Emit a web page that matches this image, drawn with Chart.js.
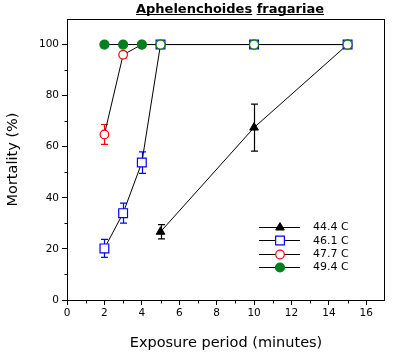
<!DOCTYPE html>
<html><head><meta charset="utf-8">
<style>html,body{margin:0;padding:0;background:#fff}canvas{display:block}</style>
<script src="https://cdn.jsdelivr.net/npm/chart.js@4/dist/chart.umd.min.js"></script>
</head><body>
<canvas id="c" width="393" height="354"></canvas>
<script>
// ---- data ----
const titleWords = ['Aphelenchoides', 'fragariae'];
const xAxisLabel = 'Exposure period (minutes)';
const yAxisLabel = 'Mortality (%)';
const seriesLabels = ['44.4 C', '46.1 C', '47.7 C', '49.4 C'];

const x444 = [5, 10, 15];
const y444 = [26.7, 67.5, 100];
const e444 = [2.8, 9.2, 0];

const x461 = [2, 3, 4, 5, 10, 15];
const y461 = [20.2, 34, 53.8, 100, 100, 100];
const e461 = [3.5, 3.9, 4.2, 0, 0, 0];

const x477 = [2, 3, 4, 5, 10, 15];
const y477 = [64.8, 96, 100, 100, 100, 100];
const e477 = [3.9, 1.2, 0, 0, 0, 0];

const x494 = [2, 3, 4, 5, 10, 15];
const y494 = [100, 100, 100, 100, 100, 100];

const xMajorTicks = [0, 2, 4, 6, 8, 10, 12, 14, 16];
const xMinorTicks = [1, 3, 5, 7, 9, 11, 13, 15];
const yMajorTicks = [0, 20, 40, 60, 80, 100];
const yMinorTicks = [10, 30, 50, 70, 90];

const pts = (xs, ys) => xs.map((x, i) => ({x: x, y: ys[i]}));

const GREEN = '#007f1f';
const BLUE = '#0000ff';
const RED = '#ff0000';
const FONT = '"DejaVu Sans", sans-serif';

function marker(ctx, style, r, x, y, fill, stroke, bw) {
  ctx.save();
  ctx.beginPath();
  if (style === 'circle') {
    ctx.arc(x, y, r, 0, Math.PI * 2);
  } else if (style === 'rect') {
    const s = Math.SQRT1_2 * r;
    ctx.rect(x - s, y - s, 2 * s, 2 * s);
  } else if (style === 'triangle') {
    let a = 0;
    ctx.moveTo(x + Math.sin(a) * r, y - Math.cos(a) * r);
    a += Math.PI * 2 / 3;
    ctx.lineTo(x + Math.sin(a) * r, y - Math.cos(a) * r);
    a += Math.PI * 2 / 3;
    ctx.lineTo(x + Math.sin(a) * r, y - Math.cos(a) * r);
    ctx.closePath();
  }
  ctx.fillStyle = fill; ctx.fill();
  if (bw > 0) { ctx.lineWidth = bw; ctx.strokeStyle = stroke; ctx.stroke(); }
  ctx.restore();
}

const datasets = [
  {label: seriesLabels[0], data: pts(x444, y444), errors: e444, order: 3,
   pointStyle: 'triangle', pointRadius: 5, pointBackgroundColor: '#000', pointBorderColor: '#000', pointBorderWidth: 1},
  {label: seriesLabels[1], data: pts(x461, y461), errors: e461, order: 2,
   pointStyle: 'rect', pointRadius: 6.2, pointBackgroundColor: '#fff', pointBorderColor: BLUE, pointBorderWidth: 1.2},
  {label: seriesLabels[2], data: pts(x477, y477), errors: e477, order: 1,
   pointStyle: 'circle', pointRadius: 4.3, pointBackgroundColor: '#fff', pointBorderColor: RED, pointBorderWidth: 1.2},
  {label: seriesLabels[3], data: pts(x494, y494), errors: null, order: 0,
   pointStyle: 'circle', pointRadius: 4.5,
   pointBackgroundColor: c => (c.raw && c.raw.x >= 5) ? '#fff' : GREEN,
   pointBorderColor: GREEN, pointBorderWidth: 1.2}
];
datasets.forEach(d => { d.borderColor = '#000'; d.borderWidth = 1; d.tension = 0; d.fill = false; d.pointHoverRadius = d.pointRadius; });

const errorBars = {
  id: 'errorBars',
  beforeDatasetsDraw(chart) {
    const ctx = chart.ctx, xs = chart.scales.x, ys = chart.scales.y;
    chart.data.datasets.forEach(ds => {
      if (!ds.errors) return;
      ctx.save();
      ctx.strokeStyle = ds.pointBorderColor; ctx.lineWidth = 1.2;
      ds.data.forEach((p, i) => {
        const e = ds.errors[i];
        if (!e) return;
        const px = Math.round(xs.getPixelForValue(p.x)) + 0.5;
        const top = ys.getPixelForValue(p.y + e), bot = ys.getPixelForValue(p.y - e);
        ctx.beginPath();
        ctx.moveTo(px, top); ctx.lineTo(px, bot);
        ctx.moveTo(px - 3.5, top); ctx.lineTo(px + 3.5, top);
        ctx.moveTo(px - 3.5, bot); ctx.lineTo(px + 3.5, bot);
        ctx.stroke();
      });
      ctx.restore();
    });
  }
};

const frameAndExtras = {
  id: 'frameAndExtras',
  afterDraw(chart) {
    const ctx = chart.ctx, a = chart.chartArea, xs = chart.scales.x, ys = chart.scales.y;
    ctx.save();
    // frame
    ctx.strokeStyle = '#000'; ctx.lineWidth = 1;
    const L = Math.round(a.left) + 0.5, R = Math.round(a.right) - 0.5, T = Math.round(a.top) + 0.5, B = Math.round(a.bottom) + 0.5;
    ctx.strokeRect(L, T, R - L, B - T);
    // minor ticks
    ctx.beginPath();
    xMinorTicks.forEach(v => { const px = Math.round(xs.getPixelForValue(v)) + 0.5; ctx.moveTo(px, B); ctx.lineTo(px, B + 3); });
    yMinorTicks.forEach(v => { const py = Math.round(ys.getPixelForValue(v)) + 0.5; ctx.moveTo(L, py); ctx.lineTo(L - 3, py); });
    ctx.stroke();
    // title
    ctx.font = 'bold 13px ' + FONT;
    ctx.fillStyle = '#000'; ctx.textBaseline = 'alphabetic'; ctx.textAlign = 'left';
    const sp = ctx.measureText(' ').width;
    const widths = titleWords.map(w => ctx.measureText(w).width);
    const total = widths.reduce((s, w) => s + w, 0) + sp * (titleWords.length - 1);
    let tx = 230 - total / 2;
    titleWords.forEach((w, i) => {
      ctx.fillText(w, tx, 13);
      ctx.fillRect(tx, 14, widths[i], 1);
      tx += widths[i] + sp;
    });
    // legend
    const ly = [227, 240.3, 253.6, 267];
    ctx.font = '11px ' + FONT;
    ctx.textBaseline = 'middle';
    chart.data.datasets.forEach((ds, i) => {
      const y = ly[i];
      ctx.beginPath(); ctx.strokeStyle = '#000'; ctx.lineWidth = 1;
      ctx.moveTo(259, Math.round(y) + 0.5); ctx.lineTo(300, Math.round(y) + 0.5); ctx.stroke();
      const fill = typeof ds.pointBackgroundColor === 'function' ? GREEN : ds.pointBackgroundColor;
      marker(ctx, ds.pointStyle, ds.pointRadius, 280, Math.round(y) + 0.5, fill, ds.pointBorderColor, ds.pointBorderWidth);
      ctx.fillStyle = '#000';
      ctx.fillText(ds.label, 313, y + 0.5);
    });
    ctx.restore();
  }
};

new Chart(document.getElementById('c'), {
  type: 'line',
  data: {datasets: datasets},
  plugins: [errorBars, frameAndExtras],
  options: {
    responsive: false, animation: false, devicePixelRatio: 1,
    layout: {padding: {top: 19, right: 8, left: 0, bottom: 0}},
    plugins: {legend: {display: false}, tooltip: {enabled: false}, title: {display: false}},
    scales: {
      x: {
        type: 'linear', min: 0, max: 17, position: 'bottom',
        afterBuildTicks: s => { s.ticks = xMajorTicks.map(v => ({value: v})); },
        afterFit: s => { s.height = 54; },
        ticks: {font: {family: FONT, size: 10.5}, color: '#000', padding: 2, maxRotation: 0, autoSkip: false},
        grid: {drawOnChartArea: false, drawTicks: true, tickLength: 5, color: '#000'},
        border: {display: false},
        title: {display: true, text: xAxisLabel, color: '#000', font: {family: FONT, size: 14.5}, padding: {top: 0, bottom: 2.5}}
      },
      y: {
        type: 'linear', min: 0, max: 110,
        afterBuildTicks: s => { s.ticks = yMajorTicks.map(v => ({value: v})); },
        afterFit: s => { s.width = 67; },
        ticks: {font: {family: FONT, size: 10.5}, color: '#000', padding: 3, autoSkip: false},
        grid: {drawOnChartArea: false, drawTicks: true, tickLength: 5, color: '#000'},
        border: {display: false},
        title: {display: true, text: yAxisLabel, color: '#000', font: {family: FONT, size: 14.5}, padding: {top: 5, bottom: 0}}
      }
    }
  }
});
</script>
</body></html>
